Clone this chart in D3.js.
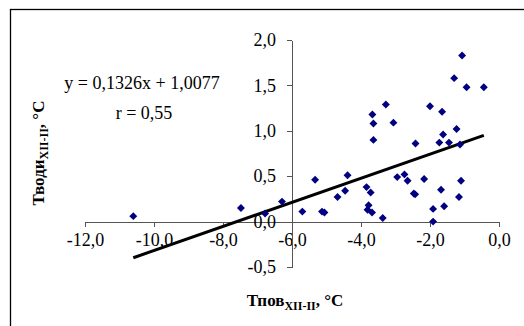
<!DOCTYPE html>
<html lang="ru">
<head>
<meta charset="UTF-8">
<script src="https://cdnjs.cloudflare.com/ajax/libs/d3/7.8.5/d3.min.js"></script>
<style>
body { margin: 0; background: #fff; }
svg { display: block; }
.axis path, .axis line { stroke: #555; shape-rendering: crispEdges; }
</style>
</head>
<body>
<script>
// air temperature (Dec-Feb), water temperature (Dec-Feb)
var tAir = [-10.60, -7.48, -6.78, -6.29, -5.70, -5.33, -5.13, -5.06, -4.68, -4.46,
            -4.39, -3.84, -3.72, -3.78, -3.81, -3.68, -3.37, -3.64, -3.64, -3.67,
            -3.28, -3.06, -2.95, -2.74, -2.65, -2.47, -2.43, -2.42, -2.17, -2.00,
            -1.91, -1.91, -1.73, -1.68, -1.65, -1.62, -1.59, -1.45, -1.30, -1.23,
            -1.16, -1.13, -1.10, -1.07, -0.94, -0.44];
var tWater = [0.06, 0.15, 0.09, 0.22, 0.11, 0.46, 0.11, 0.10, 0.27, 0.34,
              0.51, 0.38, 0.32, 0.18, 0.13, 0.10, 0.04, 0.90, 1.08, 1.18,
              1.29, 1.09, 0.49, 0.52, 0.45, 0.31, 0.30, 0.86, 0.47, 1.27,
              0.14, 0.00, 0.87, 0.35, 1.21, 0.96, 0.17, 0.87, 1.58, 1.02,
              0.27, 0.85, 0.45, 1.83, 1.48, 1.48];
var xTicks = [-12, -10, -8, -6, -4, -2, 0];
var yTicks = [-0.5, 0, 0.5, 1.0, 1.5, 2.0];
var slope = 0.1326, intercept = 1.0077;

var width = 524, height = 326;
var serif = "'Liberation Serif', 'Times New Roman', serif";
var fmt = function(d) { return d3.format(".1f")(d).replace(".", ",").replace("−", "-"); };

var svg = d3.select("body").append("svg")
    .attr("width", width)
    .attr("height", height)
    .style("font-family", serif);

// chart frame (only left and top edges are in view)
svg.append("rect")
    .attr("x", 10.5).attr("y", 9.5)
    .attr("width", 600).attr("height", 400)
    .attr("fill", "none").attr("stroke", "#000").attr("stroke-width", 1.3);

var x = d3.scaleLinear().domain([-12, 0]).range([85, 499]);
var y = d3.scaleLinear().domain([-0.5, 2]).range([267, 40]);

var gx = svg.append("g")
    .attr("class", "axis")
    .attr("transform", "translate(0," + y(0) + ")")
    .call(d3.axisBottom(x).tickValues(xTicks).tickFormat(fmt).tickSize(5).tickSizeOuter(0).tickPadding(7));

var gy = svg.append("g")
    .attr("class", "axis")
    .attr("transform", "translate(" + x(-6) + ",0)")
    .call(d3.axisLeft(y).tickValues(yTicks).tickFormat(fmt).tickSize(5).tickSizeOuter(0).tickPadding(11));

[gx, gy].forEach(function(g) {
  g.attr("font-family", null).attr("font-size", null);
  g.selectAll("text")
      .style("font-family", serif)
      .style("font-size", "18px")
      .style("fill", "#000");
});

// trend line over the data range
var ext = d3.extent(tAir);
svg.append("line")
    .attr("x1", x(ext[0])).attr("y1", y(slope * ext[0] + intercept))
    .attr("x2", x(ext[1])).attr("y2", y(slope * ext[1] + intercept))
    .attr("stroke", "#000").attr("stroke-width", 3);

svg.selectAll(".dot")
    .data(tAir)
    .enter().append("path")
    .attr("class", "dot")
    .attr("d", d3.symbol().type(d3.symbolDiamond2).size(40))
    .attr("transform", function(d, i) { return "translate(" + x(d) + "," + y(tWater[i]) + ")"; })
    .attr("fill", "#000080");

svg.append("text")
    .attr("x", 142).attr("y", 89)
    .attr("text-anchor", "middle")
    .style("font-size", "18px")
    .text("y = 0,1326x  + 1,0077");

svg.append("text")
    .attr("x", 144).attr("y", 119)
    .attr("text-anchor", "middle")
    .style("font-size", "18px")
    .text("r = 0,55");

// x axis title
var xt = svg.append("text")
    .attr("x", 295).attr("y", 306)
    .attr("text-anchor", "middle")
    .style("font-size", "17px")
    .style("font-weight", "bold");
xt.append("tspan").text("Тпов");
xt.append("tspan").attr("dy", 4).style("font-size", "12px").text("XII-II");
xt.append("tspan").attr("dy", -4).text(",  °C");

// y axis title
var yt = svg.append("text")
    .attr("transform", "translate(44,153) rotate(-90)")
    .attr("text-anchor", "middle")
    .style("font-size", "17px")
    .style("font-weight", "bold");
yt.append("tspan").text("Тводи");
yt.append("tspan").attr("dy", 4).style("font-size", "12px").text("XII-II");
yt.append("tspan").attr("dy", -4).text(", °C");
</script>
</body>
</html>
